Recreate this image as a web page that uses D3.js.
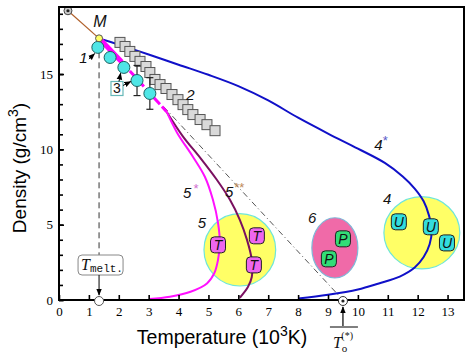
<!DOCTYPE html>
<html><head><meta charset="utf-8">
<script src="https://cdn.jsdelivr.net/npm/d3@7"></script>
<style>body{margin:0;background:#fff}svg{display:block}</style>
</head><body><svg id="c" width="474" height="355"></svg>
<script>
// ---------- data ----------
const xTicks = [0,1,2,3,4,5,6,7,8,9,10,11,12,13];
const yTicks = [0,5,10,15];
const yMinor = d3.range(0,20);
const startPoint = [0.3,19.2];
const pointM = [1.34,17.37];
const tMelt = 1.34;
const tO = 9.5;
// curve 4* (blue)
const curve4 = [[1.34,17.37],[2,16.95],[3,16.3],[4,15.62],[5,14.95],[6,14.2],[7,13.25],[8,12.1],[9,11.05],[10,10.05],[10.9,9.1],[11.5,8.2],[11.9,7.4],[12.2,6.55],[12.38,5.6],[12.47,4.66],[12.4,3.7],[12.2,2.85],[11.9,2.15],[11.4,1.55],[10.7,1.1],[10,0.7],[9,0.35],[8,0.1]];
// thick magenta and dashed continuation
const curveThick = [[1.34,17.37],[2.1,15.8]];
const curveDash = [[2.1,15.8],[3.6,12.5]];
// curve 5* (magenta)
const curve5s = [[3.6,12.5],[3.95,11.11],[4.48,9.51],[4.88,8.18],[5.15,6.65],[5.32,5.12],[5.38,3.79],[5.32,2.66],[5.2,1.8],[4.95,1.1],[4.4,0.55],[3.71,0.22],[3.02,0.07]];
// curve 5** (dark purple)
const curve5ss = [[3.6,12.5],[4.15,10.85],[4.72,9.45],[5.28,7.98],[5.72,6.65],[6.05,5.32],[6.29,3.99],[6.45,2.66],[6.45,1.53],[6.32,0.86],[6.05,0.15]];
// dash-dot line to T_o
const lineDD = [[3.5,12.84],[9.5,0]];
// series 1/3 (cyan circles) with error
const cyanT = [1.30,1.71,2.17,2.61,3.04];
const cyanD = [16.77,16.1,15.44,14.57,13.71];
const cyanErr = [0,0,0,1.0,1.05];
// series 2 (gray squares)
const sqT = [2.04,2.21,2.37,2.54,2.71,2.91,3.04,3.21,3.38,3.58,3.78,3.98,4.15,4.31,4.48,4.72,4.95,5.22];
const sqD = [17.1,16.83,16.5,16.17,15.84,15.5,15.1,14.64,14.3,14.04,13.64,13.3,12.97,12.64,12.31,11.98,11.64,11.24];
// regions (ellipses): center T, center D, half-width T, half-height D
const regionNames = ["5","6","4"];
const regionT = [6.05,9.23,12.14];
const regionD = [3.33,3.46,4.46];
const regionRT = [1.2,0.77,1.27];
const regionRD = [2.4,2.0,2.4];
// phase markers
const markT = [5.32,6.62,6.52,9.5,9.03,11.37,12.44,12.98];
const markD = [3.66,4.26,2.33,4.06,2.73,5.19,4.86,3.79];
const markLetter = ["T","T","T","P","P","U","U","U"];
// text labels
const labelText = ["1","2","4","5","6"];
const labelT = [0.82,4.4,10.98,4.78,8.47];
const labelD = [15.75,13.3,6.35,4.75,5.1];

// ---------- scales ----------
const svg = d3.select("#c");
const x = d3.scaleLinear().domain([0,13.55]).range([59,464]);
const y = d3.scaleLinear().domain([0,19.45]).range([300,7]);
const line = d3.line().x(d=>x(d[0])).y(d=>y(d[1]));
const smooth = d3.line().x(d=>x(d[0])).y(d=>y(d[1])).curve(d3.curveCatmullRom.alpha(0.5));

const defs = svg.append("defs");
defs.append("marker").attr("id","arr").attr("viewBox","0 0 10 10").attr("refX",9).attr("refY",5)
  .attr("markerWidth",7).attr("markerHeight",7).attr("markerUnits","userSpaceOnUse").attr("orient","auto")
  .append("path").attr("d","M0,1 L10,5 L0,9 Z").attr("fill","#000");

// ---------- regions ----------
const regFill = ["#ffff66","#f06aa8","#ffff66"];
regionT.forEach((t,i)=>{
  svg.append("ellipse").attr("cx",x(t)).attr("cy",y(regionD[i]))
    .attr("rx",x(regionRT[i])-x(0)).attr("ry",y(0)-y(regionRD[i]))
    .attr("fill",regFill[i]).attr("stroke",i==1?"#7fb8d8":"#6fe6d8").attr("stroke-width",1.2);
});

// ---------- curves ----------
svg.append("path").attr("d",smooth(curve4)).attr("fill","none").attr("stroke","#1010c8").attr("stroke-width",2);
svg.append("path").attr("d",line(lineDD)).attr("fill","none").attr("stroke","#555").attr("stroke-width",1)
  .attr("stroke-dasharray","6,3,1,3");
svg.append("path").attr("d",smooth(curve5ss)).attr("fill","none").attr("stroke","#7a1060").attr("stroke-width",2);
svg.append("path").attr("d",smooth(curve5s)).attr("fill","none").attr("stroke","#ff10ff").attr("stroke-width",2);
svg.append("path").attr("d",line(curveThick)).attr("fill","none").attr("stroke","#ff00ff").attr("stroke-width",5);
svg.append("path").attr("d",line(curveDash)).attr("fill","none").attr("stroke","#ff00ff").attr("stroke-width",3)
  .attr("stroke-dasharray","9,3");

// brown line from start point to M
svg.append("path").attr("d",line([startPoint,pointM])).attr("stroke","#b0602a").attr("stroke-width",1.2).attr("fill","none");

// T_melt dashed vertical
svg.append("line").attr("x1",x(tMelt)).attr("x2",x(tMelt)).attr("y1",y(pointM[1])+4).attr("y2",255)
  .attr("stroke","#333").attr("stroke-width",1).attr("stroke-dasharray","6,4");

// ---------- squares ----------
sqT.forEach((t,i)=>{
  svg.append("rect").attr("x",x(t)-5).attr("y",y(sqD[i])-5).attr("width",10).attr("height",10)
    .attr("fill","#d9d9d9").attr("stroke","#555").attr("stroke-width",1);
});

// ---------- cyan circles with error bars ----------
cyanT.forEach((t,i)=>{
  if(cyanErr[i]>0){
    const g = svg.append("g").attr("stroke","#222").attr("stroke-width",1.2);
    g.append("line").attr("x1",x(t)).attr("x2",x(t)).attr("y1",y(cyanD[i]+cyanErr[i])).attr("y2",y(cyanD[i]-cyanErr[i]));
    g.append("line").attr("x1",x(t)-3.5).attr("x2",x(t)+3.5).attr("y1",y(cyanD[i]+cyanErr[i])).attr("y2",y(cyanD[i]+cyanErr[i]));
    g.append("line").attr("x1",x(t)-3.5).attr("x2",x(t)+3.5).attr("y1",y(cyanD[i]-cyanErr[i])).attr("y2",y(cyanD[i]-cyanErr[i]));
  }
});
cyanT.forEach((t,i)=>{
  svg.append("circle").attr("cx",x(t)).attr("cy",y(cyanD[i])).attr("r",6)
    .attr("fill","#4fe6e6").attr("stroke","#1b6060").attr("stroke-width",1);
});

// M point and start point
svg.append("circle").attr("cx",x(pointM[0])).attr("cy",y(pointM[1])).attr("r",3.5).attr("fill","#ffff66").attr("stroke","#555").attr("stroke-width",1);
svg.append("circle").attr("cx",x(startPoint[0])).attr("cy",y(startPoint[1])).attr("r",4).attr("fill","#ccc").attr("stroke","#444").attr("stroke-width",1);
svg.append("circle").attr("cx",x(startPoint[0])).attr("cy",y(startPoint[1])).attr("r",1.6).attr("fill","#222");

// ---------- phase markers ----------
const markFill = {T:"#ee66ee",P:"#33dd77",U:"#33dddd"};
markT.forEach((t,i)=>{
  svg.append("rect").attr("x",x(t)-7.5).attr("y",y(markD[i])-8).attr("width",15).attr("height",16).attr("rx",4)
    .attr("fill",markFill[markLetter[i]]).attr("stroke","#222").attr("stroke-width",1);
  svg.append("text").attr("x",x(t)).attr("y",y(markD[i])+5).attr("text-anchor","middle")
    .attr("font-family","Liberation Sans, Arial, sans-serif").attr("font-style","italic").attr("font-size",14)
    .attr("fill","#111").text(markLetter[i]);
});

// ---------- axes ----------
const gx = svg.append("g").attr("transform","translate(0,300)")
  .call(d3.axisBottom(x).tickValues(xTicks).tickSize(-5).tickPadding(7).tickFormat(d3.format("d")));
gx.select(".domain").remove();
const gyMinor = svg.append("g").attr("transform","translate(59,0)")
  .call(d3.axisLeft(y).tickValues(yMinor).tickSize(-4).tickFormat(""));
gyMinor.select(".domain").remove();
const gy = svg.append("g").attr("transform","translate(59,0)")
  .call(d3.axisLeft(y).tickValues(yTicks).tickSize(-5).tickPadding(6).tickFormat(d3.format("d")));
gy.select(".domain").remove();
svg.selectAll(".tick line").attr("stroke","#000").attr("stroke-width",1.6);
svg.selectAll(".tick text").attr("font-family","Liberation Serif, Times New Roman, serif").attr("font-size",13).attr("fill","#000");
svg.append("rect").attr("x",59).attr("y",7).attr("width",405).attr("height",293)
  .attr("fill","none").attr("stroke","#000").attr("stroke-width",2);

// points on x axis (drawn after axis)
svg.append("circle").attr("cx",x(tMelt)).attr("cy",y(0)+1).attr("r",4.5).attr("fill","#fff").attr("stroke","#555").attr("stroke-width",1);
svg.append("circle").attr("cx",x(tO)).attr("cy",y(0)+1).attr("r",4.5).attr("fill","#fff").attr("stroke","#333").attr("stroke-width",1);
svg.append("circle").attr("cx",x(tO)).attr("cy",y(0)+1).attr("r",1.6).attr("fill","#222");

// ---------- axis titles ----------
const sans = "Liberation Sans, Arial, sans-serif";
const xt = svg.append("text").attr("x",222).attr("y",344).attr("text-anchor","middle")
  .attr("font-family",sans).attr("font-size",19.5).attr("fill","#000");
xt.append("tspan").text("Temperature (10");
xt.append("tspan").attr("dy",-8).attr("font-size",14).text("3");
xt.append("tspan").attr("dy",8).text("K)");
const yt = svg.append("text").attr("transform","translate(26,168) rotate(-90)").attr("text-anchor","middle")
  .attr("font-family",sans).attr("font-size",19).attr("fill","#000");
yt.append("tspan").text("Density (g/cm");
yt.append("tspan").attr("dy",-8).attr("font-size",14).text("3");
yt.append("tspan").attr("dy",8).text(")");

// ---------- labels ----------
labelText.forEach((s,i)=>{
  svg.append("text").attr("x",x(labelT[i])).attr("y",y(labelD[i])).attr("text-anchor","middle")
    .attr("font-family",sans).attr("font-style","italic").attr("font-size",15).attr("fill","#111").text(s);
});
// M
svg.append("text").attr("x",x(1.37)).attr("y",y(18.1)).attr("text-anchor","middle")
  .attr("font-family",sans).attr("font-style","italic").attr("font-size",16).attr("fill","#111").text("M");
// 4*
const l4 = svg.append("text").attr("x",x(10.55)).attr("y",y(9.95)).attr("font-family",sans).attr("font-size",15).attr("fill","#111");
l4.append("tspan").attr("font-style","italic").text("4");
l4.append("tspan").attr("dy",-5).attr("font-size",13).attr("fill","#5a5ac8").text("*");
// 5*
const l5a = svg.append("text").attr("x",x(4.15)).attr("y",y(6.8)).attr("font-family",sans).attr("font-size",15).attr("fill","#111");
l5a.append("tspan").attr("font-style","italic").text("5");
l5a.append("tspan").attr("dx",2).attr("dy",-5).attr("font-size",13).attr("fill","#d070d0").text("*");
// 5**
const l5b = svg.append("text").attr("x",x(5.55)).attr("y",y(6.85)).attr("font-family",sans).attr("font-size",15).attr("fill","#111");
l5b.append("tspan").attr("font-style","italic").text("5");
l5b.append("tspan").attr("dx",1).attr("dy",-5).attr("font-size",13).attr("fill","#c08a5a").text("**");

// arrow from "1" to first circle
svg.append("line").attr("x1",x(1.0)).attr("y1",y(16.0)).attr("x2",x(1.19)).attr("y2",y(16.35))
  .attr("stroke","#000").attr("stroke-width",1).attr("marker-end","url(#arr)");
// "3" box
const b3x = x(1.94), b3y = y(14.04);
svg.append("rect").attr("x",b3x-6).attr("y",b3y-7).attr("width",12).attr("height",14)
  .attr("fill","#fff").attr("stroke","#66b8b8").attr("stroke-width",1.2);
svg.append("text").attr("x",b3x).attr("y",b3y+5).attr("text-anchor","middle").attr("font-family",sans)
  .attr("font-size",14).attr("fill","#111").text("3");
svg.append("line").attr("x1",b3x+6).attr("y1",b3y-3).attr("x2",x(2.4)).attr("y2",y(14.5))
  .attr("stroke","#000").attr("stroke-width",1).attr("marker-end","url(#arr)");
svg.append("line").attr("x1",b3x+2).attr("y1",b3y-7).attr("x2",x(2.06)).attr("y2",y(15.05))
  .attr("stroke","#000").attr("stroke-width",1).attr("marker-end","url(#arr)");

// T_melt box
const mx = x(tMelt);
svg.append("rect").attr("x",mx-21).attr("y",255).attr("width",45).attr("height",20).attr("rx",4)
  .attr("fill","#fff").attr("stroke","#888").attr("stroke-width",1);
const tm = svg.append("text").attr("x",mx-18).attr("y",270).attr("fill","#111");
tm.append("tspan").attr("font-family","Liberation Serif, serif").attr("font-style","italic").attr("font-size",16).text("T");
tm.append("tspan").attr("font-family","Liberation Mono, Courier New, monospace").attr("font-size",11).attr("dy",2).text("melt.");
svg.append("line").attr("x1",mx).attr("x2",mx).attr("y1",275).attr("y2",295)
  .attr("stroke","#000").attr("stroke-width",1).attr("marker-end","url(#arr)");

// T_o annotation
const ox = x(tO);
svg.append("line").attr("x1",ox).attr("x2",ox).attr("y1",326).attr("y2",307)
  .attr("stroke","#000").attr("stroke-width",1.2).attr("marker-end","url(#arr)");
svg.append("line").attr("x1",ox-13).attr("x2",ox+15).attr("y1",327).attr("y2",327).attr("stroke","#000").attr("stroke-width",1);
const to = svg.append("text").attr("x",ox-10).attr("y",348).attr("font-family","Liberation Serif, serif").attr("fill","#111");
to.append("tspan").attr("font-style","italic").attr("font-size",16).text("T");
to.append("tspan").attr("font-size",11).attr("dy",4).text("o");
to.append("tspan").attr("font-size",10).attr("dx",-6).attr("dy",-13).text("(*)");
</script>
</body></html>
